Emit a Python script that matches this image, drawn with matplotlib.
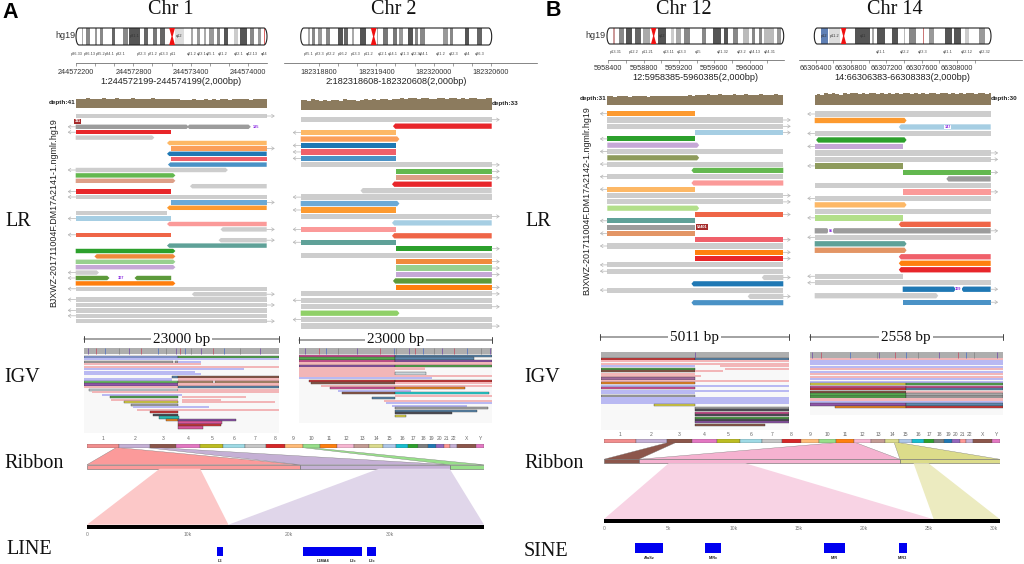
import numpy as np
import matplotlib
matplotlib.use('Agg')
import matplotlib.pyplot as plt
from matplotlib.patches import Polygon, Rectangle

plt.rcParams['font.family'] = ['Liberation Sans', 'DejaVu Sans']
SERIF = 'Liberation Serif'
W, H = 1024, 564

# ---- ideogram bands: start %, end %, colour (percent of chromosome length)
chr1_bands = [(3, 3.8, '#aaa'), (5.2, 7.3, '#888'), (10, 10.8, '#999'), (12.6, 14.3, '#888'), (18.7, 20.5, '#666'),
              (24.5, 27.4, '#888'), (27.8, 33.6, '#555'), (35.7, 37.9, '#666'), (40.2, 42.3, '#777'), (44, 46.7, '#666'),
              (51.9, 56.6, '#ddd'), (60.1, 61.5, '#aaa'), (63.3, 65, '#999'), (66.8, 68.2, '#aaa'), (69.4, 72, '#999'),
              (73.8, 75.5, '#888'), (77.6, 79.4, '#555'), (82.5, 84.6, '#ccc'), (86, 89.5, '#555'), (91.3, 93, '#888'),
              (95.1, 96.9, '#999'), (98.3, 98.8, '#d66')]
chr2_bands = [(4, 4.9, '#aaa'), (5.8, 7.5, '#888'), (9.2, 11, '#999'), (13.3, 15.4, '#888'), (19.7, 22.3, '#555'),
              (22.7, 25, '#666'), (26.7, 27.9, '#aaa'), (31, 34.2, '#555'), (39.8, 40.7, '#aaa'), (43.3, 45.9, '#777'),
              (48.2, 50.3, '#777'), (51.5, 53.8, '#999'), (56.4, 58.6, '#555'), (59.9, 61.6, '#888'), (62.5, 65.1, '#888'),
              (74.3, 77.3, '#999'), (78.2, 79.9, '#888'), (86, 88.3, '#555'), (92.5, 94.8, '#666')]
chr12_bands = [(3.2, 4.4, '#c99'), (7, 9.9, '#888'), (10.8, 14, '#555'), (15.9, 19.4, '#666'), (20.3, 24.1, '#aaa'),
               (28.8, 33.6, '#555'), (36.4, 38, '#ccc'), (39.3, 42.1, '#aaa'), (43.6, 46.9, '#888'), (53.5, 56, '#888'),
               (59.8, 64.3, '#555'), (66.4, 68.7, '#555'), (71.5, 74.4, '#888'), (77.2, 80.5, '#bbb'), (82, 83.9, '#888'),
               (85.8, 87.7, '#888'), (88.6, 94.3, '#bbb'), (96.2, 98.7, '#999')]
chr14_bands = [(3.8, 7.7, '#5f80b5'), (8.1, 14.7, '#ddd'), (23.2, 31.7, '#555'), (32.6, 33.6, '#aaa'), (35.5, 40.2, '#555'),
               (44, 47.2, '#555'), (50.6, 51.5, '#bbb'), (53.4, 57.5, '#888'), (61.3, 62, '#c77'), (64.7, 68, '#999'),
               (73.8, 77.9, '#555'), (79.2, 83, '#555'), (85.5, 87.7, '#ccc'), (93, 96.4, '#999')]

chr1_band_names = ['p36.33', 'p36.13', 'p35.2', 'p34.1', 'p32.1', 'p22.3', 'p21.2', 'p13.3', 'p11', 'q21.2', 'q23.1', 'q25.1', 'q31.2', 'q32.1', 'q42.13', 'q44']
chr1_band_pos = [.5, 7, 12.9, 17.9, 23.5, 34.4, 40.2, 45.8, 50.7, 60.7, 65.6, 70.3, 77, 85.1, 92.2, 98.6]
chr2_band_names = ['p25.1', 'p23.3', 'p22.2', 'p16.2', 'p13.3', 'p11.2', 'q12.1', 'q14.1', 'q21.3', 'q22.3', 'q24.1', 'q31.2', 'q32.3', 'q34', 'q36.3']
chr2_band_pos = [4, 10, 15.4, 22, 28.8, 35.4, 43, 48, 54.3, 60, 64.6, 73.5, 80, 87, 94]
chr12_band_names = ['p13.31', 'p12.2', 'p11.21', 'q13.11', 'q13.3', 'q15', 'q21.32', 'q23.2', 'q24.13', 'q24.31']
chr12_band_pos = [5.1, 15.2, 23.3, 34.9, 42.5, 51.4, 65.3, 76.3, 83.9, 92.4]
chr14_band_names = ['q21.1', 'q22.2', 'q23.3', 'q31.1', 'q32.12', 'q32.32']
chr14_band_pos = [37.9, 50.9, 61.5, 75.7, 86.4, 96.2]
# names printed inside the wider bands
chr1_inner = [('p31.1', 30.7), ('q12', 54.2)]
chr2_inner = []
chr12_inner = [('q12', 31.2)]
chr14_inner = [('p12', 5.7), ('p11.2', 11.4), ('q11', 27.5)]

# ---- depth estimated along each 2 kb window
chr1_depth = [38, 39, 37, 40, 38, 39, 36, 40, 39, 38, 40, 38, 37, 39, 40, 38, 39, 37, 38, 40, 39, 38, 39, 37,
              38, 36, 35, 34, 35, 36, 34, 35, 36, 35, 36, 35, 37, 36, 35, 36, 37, 36, 38, 35, 37, 36, 38, 37]
chr2_depth = [27, 28, 25, 29, 27, 26, 28, 24, 27, 28, 26, 29, 27, 28, 26, 27, 29, 28, 29, 28, 29, 29, 27, 29,
              31, 33, 31, 32, 33, 30, 32, 33, 31, 30, 33, 32, 31, 33, 32, 30, 33, 31, 32, 33, 30, 31, 33, 32]
chr12_depth = [24, 25, 22, 25, 24, 26, 23, 25, 24, 26, 25, 23, 26, 24, 25, 26, 24, 25, 26, 25, 26, 24, 27, 26,
               28, 27, 29, 30, 27, 28, 30, 28, 29, 27, 30, 28, 29, 30, 28, 29, 27, 30, 29, 28, 29, 30, 28, 29]
chr14_depth = [25, 27, 24, 28, 26, 29, 27, 25, 28, 26, 29, 28, 26, 29, 27, 28, 29, 26, 28, 27, 29, 26, 28, 27,
               28, 29, 27, 29, 26, 28, 27, 29, 28, 26, 28, 29, 27, 28, 26, 29, 27, 28, 29, 26, 28, 29, 27, 28]

# ---- long reads: row, start, end (fraction of window), colour key, outer arrow
chr1_reads = [
    (0, 0, 1, 'gray', 'R'), (2, 0, .58, 'dark', 'L'), (2, .595, .905, 'dark', ''), (3, 0, .497, 'red', 'L'), (4, 0, .40, 'gray', ''),
    (5, .49, 1, 'ltorange', ''), (6, .5, 1, 'orange2', 'R'), (7, .49, 1, 'blue', ''), (8, .497, 1, 'salmon', ''), (9, .495, 1, 'blue2', ''),
    (10, 0, .785, 'gray', 'L'), (11, 0, .51, 'green', ''), (12, 0, .51, 'tan', ''), (13, .61, 1, 'gray', ''), (14, 0, .5, 'red', 'L'),
    (15, 0, 1, 'gray', 'L'), (16, .5, 1, 'sky', 'R'), (17, .49, 1, 'orange', ''), (18, 0, .48, 'gray', ''), (19, 0, .5, 'ltblue', 'L'),
    (20, .49, 1, 'pink', ''), (21, .77, 1, 'gray', 'R'), (22, 0, .5, 'redor', 'L'), (23, .76, 1, 'gray', 'R'), (24, .49, 1, 'teal', ''),
    (25, 0, .51, 'dkgreen', ''), (26, .11, .51, 'orange3', ''), (27, 0, .51, 'ltgreen', ''), (28, 0, .51, 'purple', ''), (29, 0, .11, 'gray', 'L'),
    (30, 0, .165, 'olive', 'L'), (30, .32, .5, 'olive', ''), (31, 0, .51, 'deep', ''), (32, 0, 1, 'gray', 'L'), (33, .62, 1, 'gray', 'R'),
    (34, 0, 1, 'gray', 'L'), (35, 0, 1, 'gray', 'R'), (36, 0, 1, 'gray', 'L'), (37, 0, 1, 'gray', 'L'), (38, 0, 1, 'gray', 'R')]
chr2_reads = [
    (0, 0, 1, 'gray', 'R'), (1, .495, 1, 'red', ''), (2, 0, .497, 'ltorange', 'L'), (3, 0, .505, 'orange2', ''), (4, 0, .5, 'blue', 'L'),
    (5, 0, .5, 'salmon', 'L'), (6, 0, .497, 'blue2', 'L'), (7, 0, 1, 'gray', 'R'), (8, .5, 1, 'green', 'R'), (9, .5, 1, 'tan', 'R'),
    (10, .49, 1, 'red', ''), (11, .325, 1, 'gray', ''), (12, 0, 1, 'gray', 'L'), (13, 0, .505, 'sky', ''), (14, 0, .5, 'orange', 'L'),
    (15, 0, 1, 'gray', 'R'), (16, .49, 1, 'ltblue', ''), (17, 0, .5, 'pink', 'L'), (18, .49, 1, 'redor', ''), (19, 0, .497, 'teal', 'L'),
    (20, .5, 1, 'dkgreen', 'R'), (21, 0, 1, 'gray', ''), (22, .5, 1, 'orange3', 'R'), (23, .5, 1, 'ltgreen', 'R'), (24, .5, 1, 'purple', 'R'),
    (25, .495, 1, 'olive', ''), (26, .5, 1, 'deep', 'R'), (27, 0, 1, 'gray', 'R'), (28, 0, 1, 'gray', 'L'), (29, 0, 1, 'gray', 'R'),
    (30, 0, .505, 'lime', ''), (31, 0, 1, 'gray', 'L'), (32, 0, 1, 'gray', 'R')]
chr12_reads = [
    (0, 0, .5, 'orange', 'L'), (1, 0, 1, 'gray', 'R'), (2, 0, 1, 'gray', 'R'), (3, .5, 1, 'ltblue', 'R'), (4, 0, .5, 'dkgreen', 'L'),
    (5, 0, .51, 'purple', ''), (6, 0, 1, 'gray', 'L'), (7, 0, .51, 'khaki', ''), (8, 0, 1, 'gray', 'L'), (9, .49, 1, 'green', ''),
    (10, 0, 1, 'gray', 'L'), (11, .49, 1, 'pink', ''), (12, 0, .5, 'ltorange', 'L'), (13, 0, 1, 'gray', 'R'), (14, 0, 1, 'gray', 'R'),
    (15, 0, .51, 'lime2', ''), (16, .5, 1, 'redor', 'R'), (17, 0, .5, 'teal', 'L'), (18, 0, .5, 'dark', ''), (19, 0, .5, 'tan2', 'L'),
    (20, .5, 1, 'salmon', 'R'), (21, 0, 1, 'gray', 'L'), (22, .5, 1, 'deep', 'R'), (23, .5, 1, 'red', 'R'), (24, 0, 1, 'gray', 'L'),
    (25, 0, 1, 'gray', 'L'), (26, .89, 1, 'gray', 'R'), (27, .49, 1, 'blue', ''), (28, 0, 1, 'gray', 'L'), (29, .81, 1, 'gray', 'R'),
    (30, .49, 1, 'blue2', '')]
chr14_reads = [
    (0, 0, 1, 'gray', 'L'), (1, 0, .51, 'orange', ''), (2, .49, 1, 'ltblue', ''), (3, 0, 1, 'gray', 'L'), (4, .02, .51, 'dkgreen', ''),
    (5, 0, .5, 'purple', 'L'), (6, 0, 1, 'gray', 'R'), (7, 0, 1, 'gray', 'R'), (8, 0, .5, 'khaki', 'L'), (9, .5, 1, 'green', 'R'),
    (10, .76, 1, 'dark', ''), (11, 0, 1, 'gray', ''), (12, .5, 1, 'pink', 'R'), (13, 0, 1, 'gray', 'L'), (14, 0, .51, 'ltorange', ''),
    (15, 0, 1, 'gray', ''), (16, 0, .5, 'lime2', 'L'), (17, .49, 1, 'redor', ''), (18, 0, .07, 'dark', ''), (18, .11, 1, 'dark', 'R'),
    (19, 0, 1, 'gray', 'L'), (20, 0, .51, 'teal', ''), (21, 0, .51, 'tan2', ''), (22, .49, 1, 'salmon', ''), (23, .49, 1, 'deep', ''),
    (24, .49, 1, 'red', ''), (25, 0, .5, 'gray', 'L'), (26, 0, 1, 'gray', 'L'), (27, .5, .79, 'blue', 'R'), (27, .845, 1, 'blue', ''),
    (28, 0, .69, 'gray', ''), (29, .5, 1, 'blue2', 'R')]

# insertion numbers and clip tags on the reads: row, x, text
chr1_ins = [(2, .945, '195'), (30, .24, '307')]
chr2_ins = []
chr12_ins = []
chr14_ins = [(2, .755, '147'), (18, .09, '85'), (27, .817, '309')]
chr1_tags = [(1, .01, '311')]
chr12_tags = [(18, .54, '53401')]

# ---- IGV rows: row, start, end, colour key
igv_a1 = [(0, 0, .48, 'bl'), (0, .48, 1, 'gn'), (1, 0, 1, 'lb'), (2, 0, .455, 'gy'), (2, .465, .48, 'gy'), (2, .48, .6, 'lb'),
          (3, 0, .6, 'pk'), (4, 0, 1, 'pk'), (5, 0, .82, 'lb'), (6, 0, .57, 'lb'), (7, 0, .6, 'lb'), (8, .45, .48, 'sl'), (8, .48, 1, 'br'),
          (9, 0, .45, 'lb'), (9, .48, 1, 'pk'), (10, 0, .48, 'gn2'), (10, .48, .66, 'tn'), (10, .67, 1, 'tn'), (11, 0, .48, 'pu'), (11, .48, 1, 'pk'),
          (12, 0, .48, 'pk'), (12, .48, 1, 'sl'), (13, .025, .48, 'lg'), (13, .48, 1, 'pk'), (14, .04, .48, 'pk'), (14, .48, 1, 'pk'),
          (15, .09, .5, 'lb'), (16, .135, .48, 'gn'), (16, .5, .83, 'pk'), (17, .14, .48, 'pk'), (17, .5, .7, 'pk'), (18, .205, .48, 'ye'), (18, .5, .98, 'pk'),
          (19, .24, .48, 'gy'), (20, .25, .64, 'lb'), (21, .27, 1, 'pk'), (22, .34, .48, 'rd'), (23, .355, .48, 'dk'), (24, .385, .485, 'te'),
          (25, .42, .48, 'og'), (25, .48, .78, 'pu'), (26, .48, .71, 'mg'), (27, .48, .705, 'rd'), (28, .48, .61, 'mg')]
igv_a2 = [(0, 0, .495, 'mg'), (0, .495, 1, 'sl'), (1, 0, .495, 'gn'), (1, .495, .905, 'sl'), (2, 0, .495, 'mg'), (2, .495, 1, 'pu'), (3, 0, 1, 'pk'),
          (4, 0, .495, 'pu'), (4, .495, 1, 'gn'), (5, 0, .65, 'pk'), (6, 0, .495, 'pk'), (7, 0, .495, 'pk'), (7, .495, .655, 'lg'), (8, 0, 1, 'pk'),
          (9, 0, .69, 'lb'), (10, .05, .495, 'rd'), (10, .495, 1, 'rd'), (11, .06, .495, 'br'), (11, .495, 1, 'pk'), (12, .11, 1, 'pk'),
          (13, .16, .495, 'mg'), (13, .495, .86, 'og'), (14, .2, .58, 'lb'), (15, .22, .495, 'br'), (15, .495, .985, 'cy'), (16, .495, 1, 'pk'),
          (17, .375, .495, 'sl'), (18, .44, 1, 'pk'), (19, .45, 1, 'lb'), (20, .48, .87, 'lb'), (21, .495, .98, 'gy'), (22, .495, .92, 'sl'),
          (23, .495, .79, 'dk'), (24, .495, .555, 'ye')]
igv_b1 = [(0, 0, .5, 'rd'), (0, .5, 1, 'sl'), (1, 0, 1, 'pk'), (2, 0, 1, 'pk'), (3, 0, .5, 'lb'), (3, .63, 1, 'pk'), (4, 0, .5, 'gn'), (4, .66, 1, 'pk'),
          (5, 0, .5, 'br'), (5, .5, .65, 'pk'), (6, 0, .5, 'pk'), (7, 0, .53, 'pk'), (8, 0, .5, 'mv'), (9, 0, 1, 'pk'), (10, 0, .5, 'og'),
          (11, 0, 1, 'lb'), (12, 0, .5, 'mg'), (13, 0, 1, 'lb'), (14, 0, .5, 'lb'), (15, 0, .5, 'gy'), (16, 0, 1, 'lb'), (17, 0, 1, 'lb'), (18, 0, 1, 'lb'),
          (19, .285, .5, 'ye'), (20, .5, 1, 'gy'), (21, .5, 1, 'dk'), (22, .5, 1, 'mg'), (23, .5, 1, 'dk'), (24, .5, 1, 'gn'), (25, .5, 1, 'dk'),
          (26, .5, 1, 'pu'), (27, .5, .87, 'br')]
igv_b2 = [(0, 0, 1, 'pk'), (1, 0, 1, 'lb'), (2, 0, 1, 'lb'), (3, 0, 1, 'lb'), (4, 0, 1, 'pk'), (5, 0, 1, 'lb'), (6, 0, 1, 'pk'), (7, 0, 1, 'pk'),
          (8, 0, 1, 'lb'), (9, 0, 1, 'lb'), (10, 0, .5, 'ye'), (10, .5, 1, 'gn'), (11, 0, .5, 'mg'), (11, .5, 1, 'mg'), (12, 0, .5, 'rd'), (12, .5, 1, 'sl'),
          (13, 0, .5, 'br'), (13, .5, 1, 'pk'), (14, 0, .5, 'gn'), (14, .5, 1, 'gy'), (15, 0, .5, 'gn'), (15, .5, 1, 'gy'), (16, 0, 1, 'pk'), (17, 0, 1, 'lb'),
          (18, 0, .5, 'pu'), (18, .5, 1, 'sl'), (19, .13, .5, 'og'), (19, .5, 1, 'rd')]
# mismatches in the IGV coverage band
mism_a1 = [.02, .06, .11, .18, .23, .29, .38, .42, .47, .49, .52, .55, .6, .66, .72, .8, .9]
mism_a2 = [.03, .1, .14, .2, .3, .42, .49, .5, .57, .6, .64, .7, .74, .8, .87, .94, .99]
mism_b1 = [.5]
mism_b2 = [.01, .06, .21, .35, .36, .44, .5, .56, .67, .77, .81, .85, .97]

# ---- ribbon data: genome in Mb, assemblies in kb
chrom_names = [str(i) for i in range(1, 23)] + ['X', 'Y']
chrom_mb = [249, 243, 198, 191, 181, 171, 159, 146, 141, 135, 135, 133, 115, 107, 102, 90, 81, 78, 59, 63, 48, 51, 155, 59]
chrom_cols = ['#f28e8e', '#c5b0d5', '#8c564b', '#e377c2', '#bcbd22', '#9edae5', '#c7c7c7', '#d62728', '#ffbb78', '#98df8a', '#ff7f0e', '#f7b6d2',
              '#c49c94', '#dbdb8d', '#aec7e8', '#17becf', '#2ca02c', '#7f7f7f', '#1f77b4', '#9467bd', '#ff9896', '#c5b0d5', '#8c564b', '#e377c2']
# genome start, genome end, contig start, contig end, colour
ribbon_a_top = [(226, 249, 0, 21.1, '#fb9a9a'), (466, 565, 21.1, 35.9, '#c5b0d5'), (1680, 1750, 35.9, 39.3, '#98df8a')]
ribbon_a_low = [(7.2, 11.2, 0, 14, '#fcc8c8'), (28.9, 35.9, 14, 39.3, '#e0d6ea')]
ribbon_b_top = [(495, 560, 0, 2.7, '#8c564b'), (1810, 1966, 2.7, 22.8, '#f5b2d0'), (2265, 2305, 22.8, 30.5, '#dcdc8a')]
ribbon_b_low = [(5, 10.9, 0, 25.4, '#f8d3e4'), (23.85, 25, 25.4, 30.5, '#ecebc0')]
a_total_kb = 39.3
b_total_kb = 30.5
a_ticks = [0, 10, 20, 30]
b_ticks = [0, 5, 10, 15, 20, 25, 30]

line_names = ['L3', 'L1MA4', 'L2c', 'L2c']
line_start = [12.84, 21.35, 25.38, 27.76]
line_end = [13.43, 25.38, 27.23, 28.61]
sine_names = ['AluSz', 'MIRc', 'MIR', 'MIR3']
sine_start = [2.41, 7.82, 16.92, 22.69]
sine_end = [4.59, 9.05, 18.59, 23.33]

READ_COL = dict(gray='#cdcdcd', dark='#9c9c9c', red='#e8262a', ltorange='#fdb866', orange2='#fb9f5a', blue='#1f78b4', salmon='#f0606a',
                blue2='#4a92c6', green='#63b84f', tan='#dd9f88', tan2='#e39565', sky='#6aa9d6', orange='#fd9a2f', ltblue='#a6cee3', pink='#fb9a99',
                redor='#ef6547', teal='#5fa198', dkgreen='#2ca02c', orange3='#f08a3c', ltgreen='#98d08f', purple='#c5a8d6', olive='#5c9a3a',
                deep='#ff7f0e', lime='#90d068', lime2='#b2df8a', khaki='#8e9b5c')
IGV_COL = dict(pk='#f2b6b8', lb='#b9b9f2', bl='#8ea2e2', gn='#55a84f', gy='#a9a9a9', sl='#5b88ad', br='#8d5a4a', tn='#b58f6f', pu='#8e55a8',
               lg='#c9d4da', ye='#e0d84a', rd='#d03a3a', dk='#50505a', te='#2fb8b0', og='#f08a25', mg='#d8559a', cy='#25d5d5', mv='#a06a9a', gn2='#75d070')


def px_axes(x0, y0, x1, y1):
    ax = fig.add_axes([x0 / W, 1 - y1 / H, (x1 - x0) / W, (y1 - y0) / H])
    ax.axis('off')
    return ax


def ideogram(x0, x1, y0, y1, bands, centro, names, name_pos, name_y, inner):
    ax = px_axes(x0, y0, x1, y1)
    ax.set_xlim(0, 100)
    ax.set_ylim(0, 1)
    t = np.linspace(-np.pi / 2, np.pi / 2, 20)
    rx = 1.6
    right = np.c_[100 - rx + rx * np.cos(t), .5 + .5 * np.sin(t)]
    left = np.c_[rx - rx * np.cos(t), .5 - .5 * np.sin(t)]
    outline = Polygon(np.r_[right, left], closed=True, fc='white', ec='#222222', lw=.8, zorder=3, clip_on=False)
    fill = Polygon(np.r_[right, left], closed=True, fc='white', ec='none', zorder=1, clip_on=False)
    ax.add_patch(fill)
    outline.set_fill(False)
    ax.add_patch(outline)
    for s, e, c in bands:
        b = ax.barh(.5, e - s, left=s, height=1, color=c, zorder=2)
        b[0].set_clip_path(fill)
    ax.add_patch(Polygon([(centro - 1.5, 1), (centro + 1.5, 1), (centro + .3, .5), (centro + 1.5, 0), (centro - 1.5, 0), (centro - .3, .5)],
                         closed=True, fc='#f01010', ec='none', zorder=4))
    for n, p in inner:
        ax.text(p, .5, n, fontsize=2.8, color='#333333', ha='center', va='center', zorder=5)
    for n, p in zip(names, name_pos):
        base.text(x0 + (x1 - x0) * p / 100, name_y, n, fontsize=2.8, color='#444444', ha='center', va='center')


def position_axis(x0, x1, line_x0, line_x1, y, start, labels, minor_step, label_y):
    scale = 2000 / (x1 - x0)
    ax = fig.add_axes([line_x0 / W, 1 - y / H, (line_x1 - line_x0) / W, .001])
    ax.set_xlim(start + (line_x0 - x0) * scale, start + (line_x1 - x0) * scale)
    ax.set_yticks([])
    for s in ['top', 'left', 'right']:
        ax.spines[s].set_visible(False)
    ax.spines['bottom'].set_linewidth(.5)
    ax.spines['bottom'].set_color('#555555')
    ticks = np.arange(labels[0], start + 2000, minor_step)
    ax.set_xticks(ticks)
    ax.set_xticklabels([str(t) if t in labels else '' for t in ticks], fontsize=5.2, color='#333333')
    ax.tick_params(axis='x', length=2.2, width=.4, color='#555555', pad=(label_y - y - 5.5) * .72)


def depth_track(x0, x1, y0, y1, vals, top, label, left_side):
    ax = px_axes(x0, y0, x1, y1)
    ax.set_xlim(0, 1)
    ax.set_ylim(0, top)
    ax.fill_between(np.linspace(0, 1, len(vals)), vals, step='mid', color='#8c7b5e', lw=0)
    if left_side:
        base.text(x0 - .5, (y0 + y1) / 2 - .5, label, fontsize=4.6, fontweight='bold', ha='right', va='center', color='#222222')
    else:
        base.text(x1 + .5, (y0 + y1) / 2, label, fontsize=4.6, fontweight='bold', ha='left', va='center', color='#222222')


def reads_panel(x0, x1, y_first, step, reads, n_rows, ins, tags):
    ax = px_axes(x0, y_first - step / 2, x1, y_first + (n_rows - .5) * step)
    ax.set_xlim(0, 1)
    ax.set_ylim(n_rows - .5, -.5)
    h = .41
    tip = .012
    for row, s, e, key, arrow in reads:
        tip_l = 0 < s < .497 or s > .55
        tip_r = .503 < e < 1 or e < .45
        pts = [(s, row - h), (e, row - h)]
        if tip_r:
            pts.append((e + tip, row))
        pts += [(e, row + h), (s, row + h)]
        if tip_l:
            pts.append((s - tip, row))
        ax.add_patch(Polygon(pts, closed=True, fc=READ_COL[key], ec='none', clip_on=False))
        if arrow == 'R':
            ax.annotate('', xy=(1.042, row), xytext=(1, row), annotation_clip=False,
                        arrowprops=dict(arrowstyle='->,head_length=.18,head_width=.12', color='#b5b5b5', lw=.5, shrinkA=0, shrinkB=0))
        elif arrow == 'L':
            ax.annotate('', xy=(-.042, row), xytext=(0, row), annotation_clip=False,
                        arrowprops=dict(arrowstyle='->,head_length=.18,head_width=.12', color='#b5b5b5', lw=.5, shrinkA=0, shrinkB=0))
    for row, x, txt in ins:
        ax.text(x, row, txt, fontsize=2.8, color='#8a2be2', fontweight='bold', ha='center', va='center', clip_on=False,
                bbox=dict(fc='white', ec='none', pad=.3))
    for row, x, txt in tags:
        ax.text(x, row, txt, fontsize=2.8, color='white', fontweight='bold', ha='center', va='center', clip_on=False,
                bbox=dict(fc='#a52a2a', ec='none', pad=.5))
    return ax


def igv_panel(x0, x1, y0, y1, y_first, step, rows, mism, band_h):
    ax = px_axes(x0, y0, x1, y1)
    ax.set_xlim(0, 1)
    ax.set_ylim((y1 - y_first) / step, (y0 - y_first) / step)
    ax.add_patch(Rectangle((0, 0), 1, 1, transform=ax.transAxes, fc='#f8f8f8', ec='none'))
    f = band_h / (y1 - y0)
    ax.add_patch(Rectangle((0, 1 - f), 1, f, transform=ax.transAxes, fc='#aeaeae', ec='none'))
    cols = ['#7a5aa8', '#c05a6a', '#5a78c0', '#888888']
    ax.vlines(mism, 1 - f, 1, transform=ax.get_xaxis_transform(), colors=[cols[i % 4] for i in range(len(mism))], lw=.6)
    for r, s, e, key in rows:
        plain = key in ('pk', 'lb')
        ax.barh(r, e - s, left=s, height=.86, color=IGV_COL[key], edgecolor='none' if plain else '#2a2a2a', linewidth=0 if plain else .25)


def genome_bar(x0, x1, y0, y1, label_y):
    ax = px_axes(x0, y0, x1, y1)
    total = sum(chrom_mb)
    ax.set_xlim(0, total)
    ax.set_ylim(0, 1)
    left = 0
    for name, size, col in zip(chrom_names, chrom_mb, chrom_cols):
        ax.barh(.5, size, left=left, height=1, color=col, edgecolor='#555555', linewidth=.25)
        base.text(x0 + (left + size / 2) / total * (x1 - x0), label_y, name, fontsize=3.6, color='#666666', ha='center', va='center')
        left += size


def ribbons(x0, x1, y_genome, y_mid0, y_mid1, y_low, y_low1, total_kb, top, low, ticks):
    ax = px_axes(x0, y_genome, x1, y_low1)
    ax.axis('on')
    for s in ax.spines.values():
        s.set_visible(False)
    ax.patch.set_alpha(0)
    ax.set_xlim(0, total_kb)
    ax.set_ylim(y_low1, y_genome)
    ax.set_yticks([])
    ax.set_xticks(ticks)
    ax.set_xticklabels(['0' if t == 0 else f'{t}k' for t in ticks], fontsize=3.6, color='#777777')
    ax.tick_params(axis='x', length=0, pad=2.2)
    mb_to_kb = total_kb / sum(chrom_mb)
    for g0, g1, c0, c1, col in top:
        ax.fill([g0 * mb_to_kb, g1 * mb_to_kb, c1, c0], [y_genome, y_genome, y_mid0, y_mid0], color=col, ec='#777777', lw=.25)
        ax.barh((y_mid0 + y_mid1) / 2, c1 - c0, left=c0, height=y_mid1 - y_mid0, color=col, edgecolor='#666666', linewidth=.4)
    for t0, t1, c0, c1, col in low:
        ax.fill([t0, t1, c1, c0], [y_mid1, y_mid1, y_low, y_low], color=col, lw=0)
    ax.barh((y_low + y_low1) / 2, total_kb, left=0, height=y_low1 - y_low, color='black')


def blocks(x0, x1, y0, y1, total_kb, names, starts, ends, label_y):
    ax = px_axes(x0, y0, x1, y1)
    ax.set_xlim(0, total_kb)
    ax.set_ylim(0, 1)
    ax.barh(.5, np.array(ends) - np.array(starts), left=starts, height=1, color='#0000f0')
    for n, s, e in zip(names, starts, ends):
        base.text(x0 + (s + e) / 2 / total_kb * (x1 - x0), label_y, n, fontsize=2.8, fontweight='bold', color='#222222', ha='center', va='center')


def ruler(x0, x1, y, label):
    base.annotate('', xy=(x1, y), xytext=(x0, y),
                  arrowprops=dict(arrowstyle='|-|,widthA=.22,widthB=.22', color='#444444', lw=.7, shrinkA=0, shrinkB=0))
    base.text((x0 + x1) / 2, y, label, family=SERIF, fontsize=11, ha='center', va='center', color='#111111',
              bbox=dict(fc='white', ec='none', pad=1.5))


fig = plt.figure(figsize=(W / 100, H / 100), dpi=100)
base = fig.add_axes([0, 0, 1, 1])
base.set_xlim(0, W)
base.set_ylim(H, 0)
base.axis('off')

# headings and row labels
base.text(10, 12, 'A', fontsize=15.5, fontweight='bold', ha='center', va='center')
base.text(553, 11, 'B', fontsize=15.5, fontweight='bold', ha='center', va='center')
for x, t in [(171, 'Chr 1'), (394, 'Chr 2'), (684, 'Chr 12'), (895, 'Chr 14')]:
    base.text(x, 9, t, family=SERIF, fontsize=14.5, ha='center', va='center', color='#111111')
for x, y, t in [(5, 222, 'LR'), (4, 377, 'IGV'), (4, 464, 'Ribbon'), (6, 550, 'LINE'),
                (525, 222, 'LR'), (524, 377, 'IGV'), (524, 464, 'Ribbon'), (524, 552, 'SINE')]:
    base.text(x, y, t, family=SERIF, fontsize=14.5, ha='left', va='center', color='#111111')
base.text(75, 36, 'hg19', fontsize=6.5, ha='right', va='center', color='#333333')
base.text(606, 35, 'hg19', fontsize=6.5, ha='right', va='center', color='#333333')
base.text(54, 213, 'BJXWZ-201711004F.DM17A2141-1.ngmlr.hg19', fontsize=6.4, rotation=90, ha='center', va='center', color='#222222')
base.text(587, 201, 'BJXWZ-201711004F.DM17A2142-1.ngmlr.hg19', fontsize=6.4, rotation=90, ha='center', va='center', color='#222222')

# ideograms
ideogram(76, 267, 28, 45, chr1_bands, 50.3, chr1_band_names, chr1_band_pos, 54, chr1_inner)
ideogram(300.7, 491.7, 28, 45, chr2_bands, 38.2, chr2_band_names, chr2_band_pos, 54, chr2_inner)
ideogram(607, 783.7, 28, 44, chr12_bands, 26.4, chr12_band_names, chr12_band_pos, 52, chr12_inner)
ideogram(814.3, 991, 28, 44, chr14_bands, 16.6, chr14_band_names, chr14_band_pos, 52, chr14_inner)

# genome position axes
position_axis(76, 267, 76, 267, 63.3, 244572199, [244572200, 244572800, 244573400, 244574000], 200, 71)
position_axis(300.7, 491.7, 284, 537, 63.3, 182318608, [182318800, 182319400, 182320000, 182320600], 200, 71)
position_axis(607, 783.7, 608, 783.7, 60, 5958385, [5958400, 5958800, 5959200, 5959600, 5960000], 200, 67)
position_axis(814.3, 991, 799, 1022, 60, 66306383, [66306400, 66306800, 66307200, 66307600, 66308000], 200, 67)
for x, y, t in [(171, 82, '1:244572199-244574199(2,000bp)'), (396, 82, '2:182318608-182320608(2,000bp)'),
                (695, 77, '12:5958385-5960385(2,000bp)'), (902, 77, '14:66306383-66308383(2,000bp)')]:
    base.text(x, y, t, fontsize=6.6, ha='center', va='center', color='#222222')

# depth and long reads
depth_track(76, 267, 98, 108.5, chr1_depth, 41, 'depth:41', True)
depth_track(300.7, 491.7, 98, 110, chr2_depth, 33, 'depth:33', False)
depth_track(607.3, 783.3, 94, 104.5, chr12_depth, 31, 'depth:31', True)
depth_track(814.7, 990.7, 92.5, 104.5, chr14_depth, 30, 'depth:30', False)
reads_panel(75.7, 266.7, 116, 5.4, chr1_reads, 39, chr1_ins, chr1_tags)
reads_panel(300.7, 491.7, 119.7, 6.45, chr2_reads, 33, chr2_ins, [])
reads_panel(607.3, 783.3, 113.7, 6.3, chr12_reads, 31, chr12_ins, chr12_tags)
reads_panel(814.7, 990.7, 114, 6.49, chr14_reads, 30, chr14_ins, [])

# IGV
ruler(84, 278.7, 339, '23000 bp')
ruler(299, 492, 340, '23000 bp')
ruler(600.3, 789.3, 337, '5011 bp')
ruler(809.7, 1002.7, 337, '2558 bp')
igv_panel(84, 279, 348, 433, 356.7, 2.53, igv_a1, mism_a1, 6)
igv_panel(299.3, 492.3, 348, 423, 356, 2.49, igv_a2, mism_a2, 6)
igv_panel(600.7, 789.3, 352, 430, 359, 2.44, igv_b1, mism_b1, 5.5)
igv_panel(809.7, 1002.7, 352, 415, 359, 2.53, igv_b2, mism_b2, 5.5)

# ribbons
ribbons(87, 484, 447.7, 464.7, 468.7, 524.7, 528.7, a_total_kb, ribbon_a_top, ribbon_a_low, a_ticks)
ribbons(603.7, 1000, 442.7, 459.3, 463.3, 519.3, 523.3, b_total_kb, ribbon_b_top, ribbon_b_low, b_ticks)
genome_bar(87, 484, 443.7, 447.7, 439)
genome_bar(603.7, 1000, 438.7, 442.7, 434.3)

# repeat annotation
blocks(87, 484, 547.3, 556.3, a_total_kb, line_names, line_start, line_end, 560.7)
blocks(603.7, 1000, 543.3, 553.3, b_total_kb, sine_names, sine_start, sine_end, 558)

fig.savefig('out.png', dpi=100)
